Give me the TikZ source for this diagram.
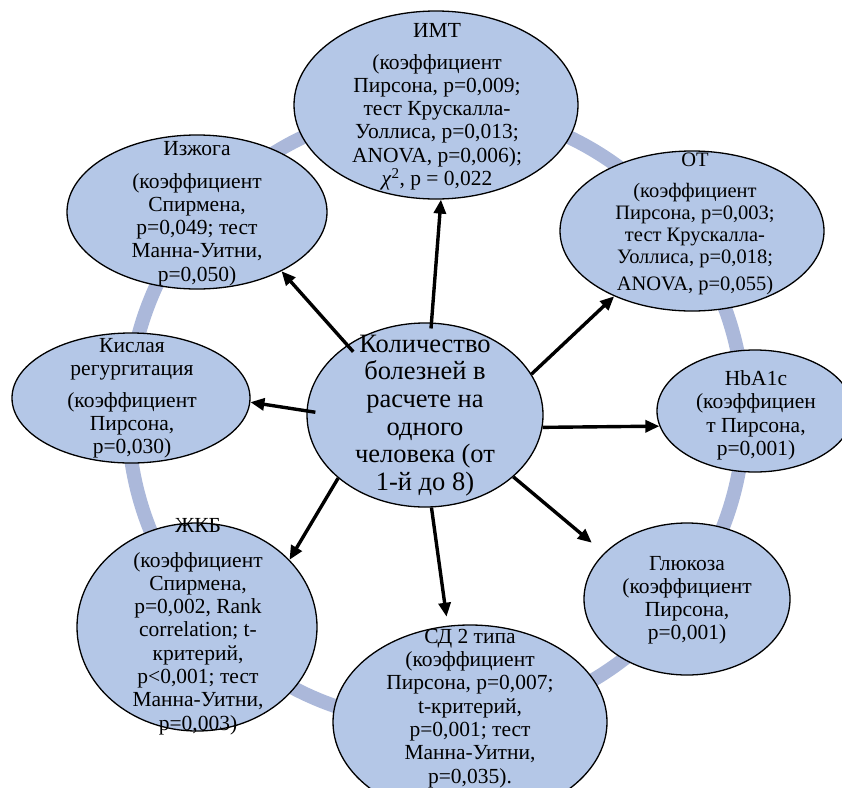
\documentclass[tikz,border=0pt]{standalone}
\usepackage{fontspec}
\setmainfont{Liberation Serif}
\usetikzlibrary{arrows.meta,shapes.geometric}
\definecolor{blobfill}{RGB}{180,199,231}
\definecolor{ringcol}{RGB}{171,184,218}
\begin{document}
\begin{tikzpicture}[x=1pt,y=-1pt,
  blob/.style={ellipse, draw=black, line width=1.3pt, fill=blobfill, inner sep=0pt},
  lbl/.style={align=center, anchor=north, inner sep=0pt, font=\fontsize{21.5}{23.3}\selectfont},
  arr/.style={line width=3.4pt, -{Triangle[length=14pt,width=12pt]}}]
\clip (0,0) rectangle (842,787);
\fill[white] (0,0) rectangle (842,787);
% ring
\draw[ringcol, line width=14pt] (436,415) circle[radius=308];
% ellipses
\node[blob, minimum width=284pt, minimum height=188pt] (imt) at (436,105) {};
\node[blob, minimum width=264pt, minimum height=160pt] (ot) at (692,231) {};
\node[blob, minimum width=260pt, minimum height=154pt] (izh) at (197,212) {};
\node[blob, minimum width=238pt, minimum height=130pt] (kisl) at (131,398) {};
\node[blob, minimum width=236pt, minimum height=184pt] (c) at (425,415) {};
\node[blob, minimum width=196pt, minimum height=122pt] (hba) at (755,411) {};
\node[blob, minimum width=206pt, minimum height=152pt] (glu) at (687,599) {};
\node[blob, minimum width=274pt, minimum height=194pt] (sd) at (470,722) {};
\node[blob, minimum width=240pt, minimum height=208pt] (zhkb) at (197,627) {};
% texts
\node[lbl] (imtT) at (437,22.8) {ИМТ\\[8.7pt](коэффициент\\Пирсона, p=0,009;\\тест Крускалла-\\Уоллиса, p=0,013;\\ANOVA, p=0,006);\\\textit{χ}\textsuperscript{2}, p = 0,022};
\node[lbl] (izhT) at (197,140.8) {Изжога\\[9.7pt](коэффициент\\Спирмена,\\p=0,049; тест\\Манна-Уитни,\\p=0,050)};
\node[lbl] (kislT) at (132,337.8) {Кислая\\регургитация\\[8.7pt](коэффициент\\Пирсона,\\p=0,030)};
\node[lbl, font=\fontsize{26.5}{27.7}\selectfont] (cT) at (425,334.5) {Количество\\болезней в\\расчете на\\одного\\человека (от\\1-й до 8)};
\node[lbl, font=\fontsize{20.5}{22}\selectfont] (otT) at (695,153.2) {ОТ\\[9pt](коэффициент\\Пирсона, p=0,003;\\тест Крускалла-\\Уоллиса, p=0,018;\\[5pt]ANOVA, p=0,055)};
\node[lbl] (hbaT) at (756,370.3) {HbA1c\\(коэффициен\\т Пирсона,\\p=0,001)};
\node[lbl] (gluT) at (687,555.8) {Глюкоза\\(коэффициент\\Пирсона,\\p=0,001)};
\node[lbl] (sdT) at (470,628.8) {СД 2 типа\\(коэффициент\\Пирсона, p=0,007;\\t-критерий,\\p=0,001; тест\\Манна-Уитни,\\p=0,035).};
\node[lbl] (zhkbT) at (198,517.8) {ЖКБ\\[11.7pt](коэффициент\\Спирмена,\\p=0,002, Rank\\correlation; t-\\критерий,\\p<0,001; тест\\Манна-Уитни,\\p=0,003)};
% arrows
\draw[arr, shorten <=-6pt] (c.86) -- (imt.-87);
\draw[arr, shorten <=-9pt] (c.138) -- (izh.-35);
\draw[arr, shorten <=-9pt] (c.178) -- (kisl.-2);
\draw[arr] (c.21) -- (ot.220);
\draw[arr] (c.-6) -- (hba.189);
\draw[arr, shorten >=16pt] (c.-35) -- (glu.151);
\draw[arr, shorten >=9pt] (c.-86) -- (sd.103);
\draw[arr] (c.-144) -- (zhkb.36);
\end{tikzpicture}
\end{document}
